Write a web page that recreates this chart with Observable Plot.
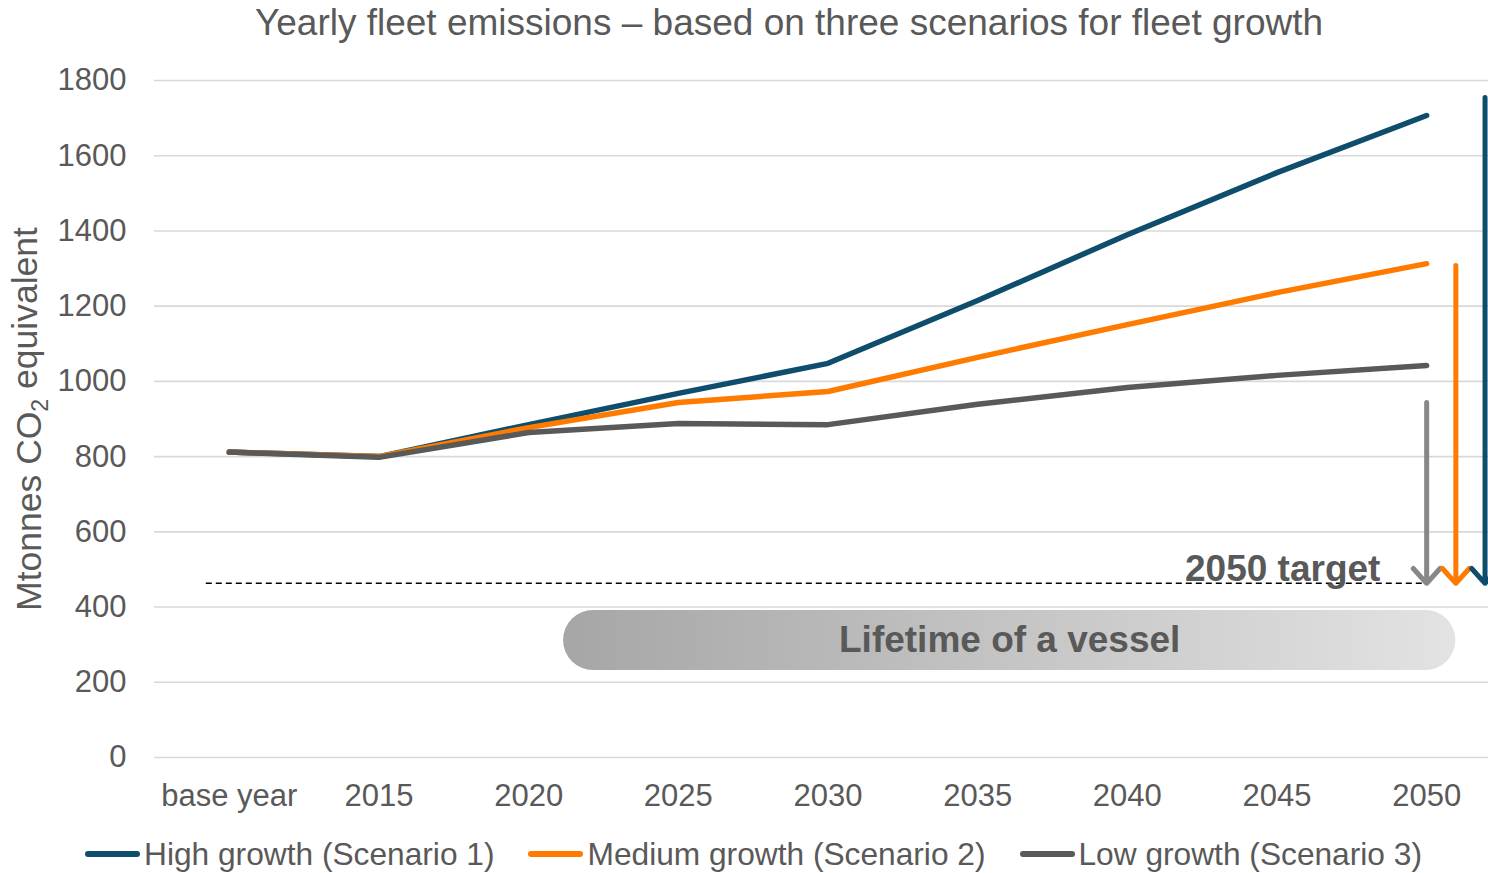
<!DOCTYPE html>
<html>
<head>
<meta charset="utf-8">
<script src="https://cdn.jsdelivr.net/npm/d3@7"></script>
<script src="https://cdn.jsdelivr.net/npm/@observablehq/plot@0.6"></script>
<style>
  html, body { margin: 0; padding: 0; background: #fff; }
  body { width: 1488px; height: 873px; overflow: hidden; position: relative;
         font-family: "Liberation Sans", Arial, sans-serif; color: #595959; }
  #title { position: absolute; top: 2px; left: 789px; transform: translateX(-50%);
           white-space: nowrap; font-size: 37px; }
  #chart { position: absolute; top: 48px; left: 0; }
  #legend { position: absolute; top: 836px; left: 85px; display: flex; gap: 34px;
            font-size: 31.7px; line-height: 36px; white-space: nowrap; }
  .item { display: flex; align-items: center; }
  .swatch { width: 55px; height: 6px; border-radius: 3px; margin-right: 4px; }
</style>
</head>
<body>
<div id="title">Yearly fleet emissions – based on three scenarios for fleet growth</div>
<div id="chart"></div>
<div id="legend"></div>
<script>
// ---- data ----
const categories = ["base year", "2015", "2020", "2025", "2030", "2035", "2040", "2045", "2050"];
const highGrowth   = [812, 800, 885, 968, 1048, 1215, 1390, 1555, 1707];
const mediumGrowth = [812, 800, 877, 944, 973, 1064, 1151, 1236, 1313];
const lowGrowth    = [812, 798, 864, 888, 885, 939, 984, 1016, 1042];
const seriesNames  = ["High growth (Scenario 1)", "Medium growth (Scenario 2)", "Low growth (Scenario 3)"];
const seriesColors = ["#0E4D6B", "#FF7B00", "#595959"];
const yTicks = [0, 200, 400, 600, 800, 1000, 1200, 1400, 1600, 1800];
const target2050 = 463;
// annotation arrows (gap from 2050 value to target), positions in category-index units
const arrowX     = [8.0, 8.195, 8.39];
const arrowFrom  = [944, 1308, 1755];
const arrowColors = ["#878787", "#FF7B00", "#0E4D6B"];
const targetSpan = [-0.154, 8.0];
const lifetimeSpan = [2.233, 8.195];
const lifetimeBand = [231, 391];

// ---- build marks ----
const seriesValues = [highGrowth, mediumGrowth, lowGrowth];
const lineMarks = seriesValues.map((vals, s) =>
  Plot.line(vals.map((v, i) => ({i, v})), {
    x: "i", y: "v", stroke: seriesColors[s], strokeWidth: 5.5,
    strokeLinecap: "round", strokeLinejoin: "round"
  })
);
const arrowMarks = arrowX.map((x, k) =>
  Plot.arrow([{x, from: arrowFrom[k], to: target2050}], {
    x1: "x", x2: "x", y1: "from", y2: "to", stroke: arrowColors[k],
    strokeWidth: 5, headLength: 6, headAngle: 84, strokeLinecap: "round", strokeLinejoin: "miter"
  })
);

const plot = Plot.plot({
  width: 1488,
  height: 780,
  marginLeft: 154,
  marginRight: 0,
  marginTop: 32,
  marginBottom: 71,
  style: { fontFamily: "'Liberation Sans', Arial, sans-serif", fontSize: "31px", color: "#595959", background: "transparent" },
  x: { type: "linear", domain: [-0.5, 8.5], range: [154, 1501] },
  y: { domain: [0, 1800], range: [709, 32] },
  marks: [
    Plot.gridY({ ticks: yTicks, stroke: "#d9d9d9", strokeOpacity: 1, strokeWidth: 1.6 }),
    Plot.axisY({ ticks: yTicks, tickFormat: d => String(d), tickSize: 0, tickPadding: 28, label: null }),
    Plot.axisX({ ticks: categories.map((d, i) => i), tickFormat: i => categories[i], tickSize: 0, tickPadding: 26, label: null }),
    Plot.rect([{x1: lifetimeSpan[0], x2: lifetimeSpan[1], y1: lifetimeBand[0], y2: lifetimeBand[1]}], {
      x1: "x1", x2: "x2", y1: "y1", y2: "y2", rx: 30, fill: "url(#lifeGrad)"
    }),
    Plot.text([{x: (lifetimeSpan[0] + lifetimeSpan[1]) / 2, y: (lifetimeBand[0] + lifetimeBand[1]) / 2, t: "Lifetime of a vessel"}], {
      x: "x", y: "y", text: "t", fontSize: 37, fontWeight: "bold", fill: "#595959"
    }),
    Plot.ruleY([{y: target2050, x1: targetSpan[0], x2: targetSpan[1]}], {
      y: "y", x1: "x1", x2: "x2", stroke: "#000", strokeWidth: 1.5, strokeDasharray: "6,4"
    }),
    Plot.text([{x: 7.691, y: 500, t: "2050 target"}], {
      x: "x", y: "y", text: "t", textAnchor: "end", fontSize: 37, fontWeight: "bold", fill: "#595959"
    }),
    ...lineMarks,
    ...arrowMarks
  ]
});

// gradient for lifetime band
const svg = d3.select(plot);
const defs = svg.insert("defs", ":first-child");
const grad = defs.append("linearGradient").attr("id", "lifeGrad")
  .attr("x1", "0").attr("x2", "1").attr("y1", "0").attr("y2", "0");
grad.append("stop").attr("offset", "0").attr("stop-color", "#a6a6a6");
grad.append("stop").attr("offset", "1").attr("stop-color", "#e3e3e3");

// y axis label with subscript
const yl = svg.append("text")
  .attr("transform", "translate(41,371) rotate(-90)")
  .attr("text-anchor", "middle")
  .attr("fill", "#595959")
  .style("font-size", "35.5px");
yl.append("tspan").text("Mtonnes CO");
yl.append("tspan").attr("dy", "0.3em").style("font-size", "23px").text("2");
yl.append("tspan").attr("dy", "-0.3em").text(" equivalent");

document.getElementById("chart").appendChild(plot);

// legend
const legend = d3.select("#legend");
seriesNames.forEach((name, s) => {
  const it = legend.append("div").attr("class", "item");
  it.append("div").attr("class", "swatch").style("background", seriesColors[s]);
  it.append("span").text(name);
});
</script>
</body>
</html>
